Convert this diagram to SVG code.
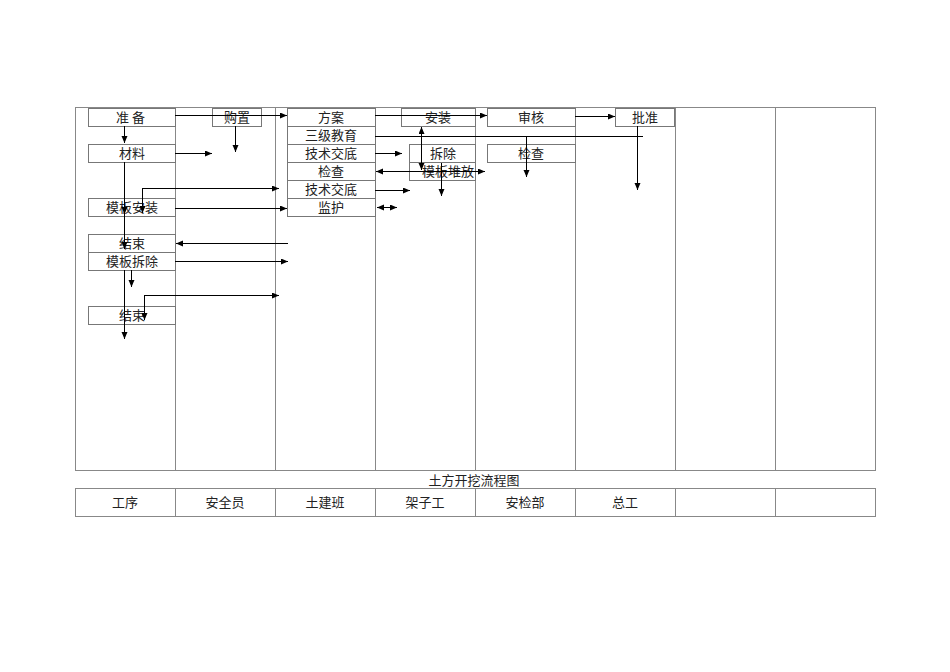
<svg xmlns="http://www.w3.org/2000/svg" width="950" height="672" viewBox="0 0 950 672">
<style>
.grid{fill:none;stroke:#888;stroke-width:1}
.box{fill:#fff;stroke:#777;stroke-width:1}
.t{font-family:"Liberation Serif","Noto Sans CJK SC",serif;font-size:13px;fill:#222;text-anchor:middle}
.c{fill:none;stroke:#000;stroke-width:1}
.a{marker-end:url(#ah)}
.b{marker-start:url(#ah);marker-end:url(#ah)}
</style>
<defs>
<marker id="ah" markerUnits="userSpaceOnUse" markerWidth="8" markerHeight="8" refX="7" refY="3" orient="auto-start-reverse">
<path d="M0,0 L7,3 L0,6 z" fill="#000"/>
</marker>
</defs>
<rect width="950" height="672" fill="#fff"/>
<g id="table">
<rect class="grid" x="75.5" y="107.5" width="800" height="363"/>
<path class="grid" d="M175.5,107.5V470.5M275.5,107.5V470.5M375.5,107.5V470.5M475.5,107.5V470.5M575.5,107.5V470.5M675.5,107.5V470.5M775.5,107.5V470.5"/>
<rect class="grid" x="75.5" y="488.5" width="800" height="28"/>
<path class="grid" d="M175.5,488.5V516.5M275.5,488.5V516.5M375.5,488.5V516.5M475.5,488.5V516.5M575.5,488.5V516.5M675.5,488.5V516.5M775.5,488.5V516.5"/>
<text class="t" x="474" y="485">土方开挖流程图</text>
<text class="t" x="125" y="507">工序</text>
<text class="t" x="225" y="507">安全员</text>
<text class="t" x="325" y="507">土建班</text>
<text class="t" x="425" y="507">架子工</text>
<text class="t" x="525" y="507">安检部</text>
<text class="t" x="625" y="507">总工</text>
</g>
<g id="n-zhunbei"><rect class="box" x="88.5" y="108.5" width="87" height="18"/><text class="t" x="132" y="122" letter-spacing="3">准备</text></g>
<g id="n-gouzhi"><rect class="box" x="212.5" y="108.5" width="49" height="18"/><text class="t" x="237" y="122">购置</text></g>
<g id="n-cailiao"><rect class="box" x="88.5" y="144.5" width="87" height="18"/><text class="t" x="132" y="158">材料</text></g>
<g id="n-anzhuang1"><rect class="box" x="88.5" y="198.5" width="87" height="18"/><text class="t" x="132" y="212">模板安装</text></g>
<g id="n-jieshu1"><rect class="box" x="88.5" y="234.5" width="87" height="18"/><text class="t" x="132" y="248">结束</text></g>
<g id="n-chaichu1"><rect class="box" x="88.5" y="252.5" width="87" height="18"/><text class="t" x="132" y="266">模板拆除</text></g>
<g id="n-jieshu2"><rect class="box" x="88.5" y="306.5" width="87" height="18"/><text class="t" x="132" y="320">结束</text></g>
<g id="n-fangan"><rect class="box" x="287.5" y="108.5" width="88" height="18"/><text class="t" x="331" y="122">方案</text></g>
<g id="n-sanji"><rect class="box" x="287.5" y="126.5" width="88" height="18"/><text class="t" x="331" y="140">三级教育</text></g>
<g id="n-jishu1"><rect class="box" x="287.5" y="144.5" width="88" height="18"/><text class="t" x="331" y="158">技术交底</text></g>
<g id="n-jiancha1"><rect class="box" x="287.5" y="162.5" width="88" height="18"/><text class="t" x="331" y="176">检查</text></g>
<g id="n-jishu2"><rect class="box" x="287.5" y="180.5" width="88" height="18"/><text class="t" x="331" y="194">技术交底</text></g>
<g id="n-jianhu"><rect class="box" x="287.5" y="198.5" width="88" height="18"/><text class="t" x="331" y="212">监护</text></g>
<g id="n-anzhuang2"><rect class="box" x="401.5" y="108.5" width="74" height="18"/><text class="t" x="438" y="122">安装</text></g>
<g id="n-chaichu2"><rect class="box" x="409.5" y="144.5" width="66" height="18"/><text class="t" x="443" y="158">拆除</text></g>
<g id="n-duifang"><rect class="box" x="409.5" y="162.5" width="66" height="18"/><text class="t" x="448" y="176">模板堆放</text></g>
<g id="n-shenhe"><rect class="box" x="487.5" y="108.5" width="88" height="18"/><text class="t" x="531" y="122">审核</text></g>
<g id="n-jiancha2"><rect class="box" x="487.5" y="144.5" width="88" height="18"/><text class="t" x="531" y="158">检查</text></g>
<g id="n-pizhun"><rect class="box" x="615.5" y="108.5" width="59" height="18"/><text class="t" x="645" y="122">批准</text></g>
<g id="connectors">
<path class="c a" d="M175,115.5H287"/>
<path class="c a" d="M124.5,126V143"/>
<path class="c a" d="M235.5,126V152"/>
<path class="c a" d="M175,153.5H212"/>
<path class="c a" d="M124.5,162V214"/>
<path class="c a" d="M124.5,214V249"/>
<path class="c a" d="M142.5,188.5H279"/>
<path class="c a" d="M142.5,188V213"/>
<path class="c a" d="M175,208.5H287"/>
<path class="c a" d="M288,243.5H176"/>
<path class="c a" d="M175,261.5H288"/>
<path class="c a" d="M124.5,270V339"/>
<path class="c a" d="M131.5,270V287"/>
<path class="c a" d="M144.5,295.5H279"/>
<path class="c a" d="M144.5,295V320"/>
<path class="c a" d="M375,115.5H487"/>
<path class="c" d="M375,136.5H643"/>
<path class="c a" d="M375,153.5H402"/>
<path class="c b" d="M376,171.5H485"/>
<path class="c b" d="M421.5,127V170"/>
<path class="c a" d="M375,190.5H410"/>
<path class="c a" d="M441.5,163V196"/>
<path class="c b" d="M377,207.5H397"/>
<path class="c a" d="M575,116.5H615"/>
<path class="c a" d="M526.5,136V177"/>
<path class="c a" d="M637.5,126V190"/>
</g>
</svg>
